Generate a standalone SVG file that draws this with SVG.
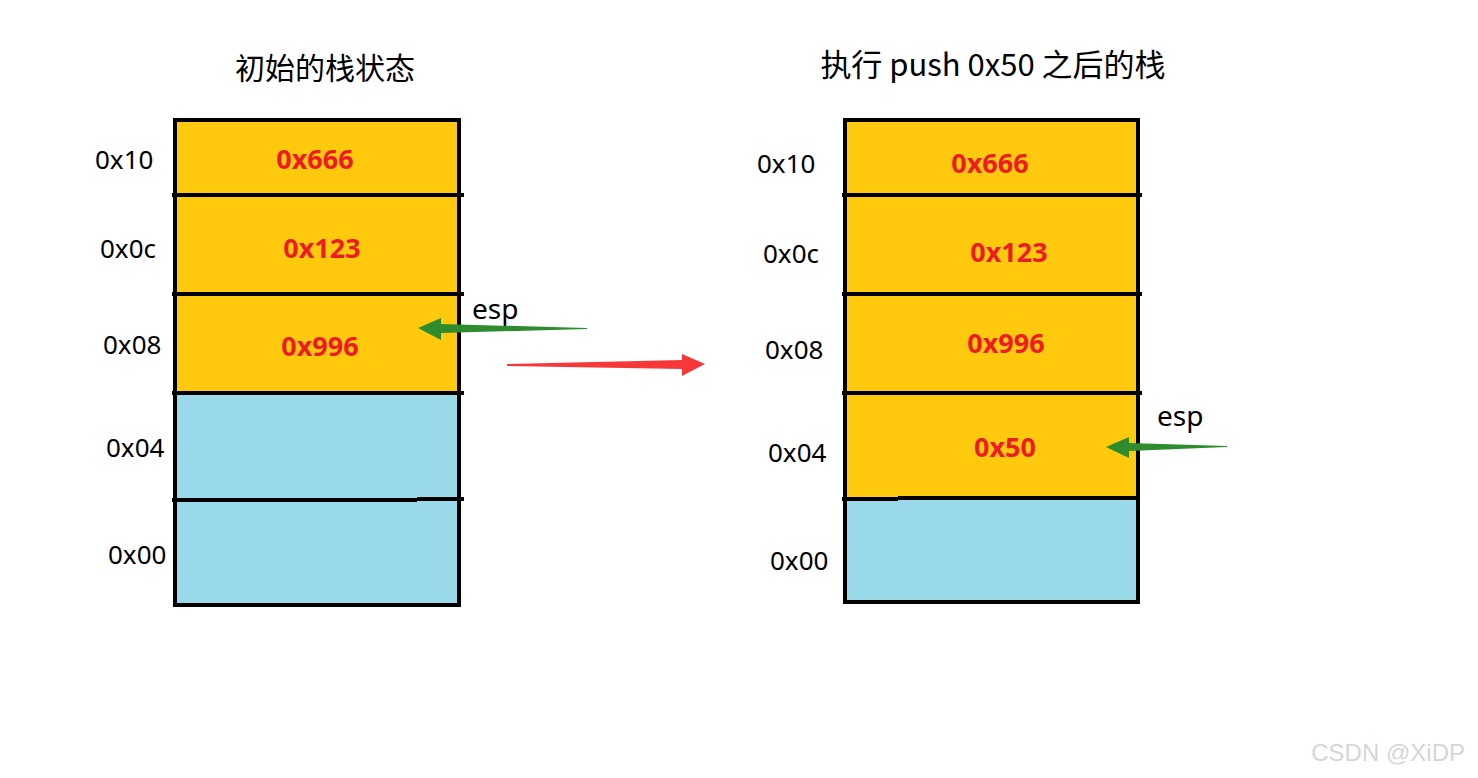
<svg xmlns="http://www.w3.org/2000/svg" width="1478" height="778" viewBox="0 0 1478 778">
<style>
.t{font-family:"Noto Sans","Open Sans","Noto Sans CJK SC",sans-serif;fill:#000;}
.addr{font-size:26px;}
.esp{font-size:28px;}
.val{font-family:"Noto Sans","Open Sans",sans-serif;font-size:27px;font-weight:bold;fill:#ED1C24;text-anchor:middle;}
.title{font-family:"Noto Sans CJK SC","Noto Sans",sans-serif;font-size:30px;fill:#000;text-anchor:middle;}
.y{fill:#FFC90E;}
.b{fill:#99D9EA;}
.ln{stroke:#000;stroke-width:4;fill:none;}
</style>
<rect width="1478" height="778" fill="#fff"/>
<text class="title" x="325" y="79">初始的栈状态</text>
<text class="title" x="993" y="76" style="font-size:31px">执行 push 0x50 之后的栈</text>

<g id="left-stack">
<rect class="y" x="175" y="120" width="284" height="273"/>
<rect class="b" x="175" y="393" width="284" height="212"/>
<rect class="ln" x="175" y="120" width="284" height="485"/>
<line class="ln" x1="172" y1="195" x2="464" y2="195"/>
<line class="ln" x1="172" y1="294" x2="464" y2="294"/>
<line class="ln" x1="172" y1="393" x2="464" y2="393"/>
<line class="ln" x1="172" y1="500" x2="417" y2="500"/>
<line class="ln" x1="417" y1="499" x2="464" y2="499"/>
<text class="val" x="315" y="169">0x666</text>
<text class="val" x="322" y="258">0x123</text>
<text class="val" x="320" y="356">0x996</text>
</g>
<g id="left-addrs">
<text class="t addr" x="95" y="169">0x10</text>
<text class="t addr" x="100" y="258">0x0c</text>
<text class="t addr" x="103" y="354">0x08</text>
<text class="t addr" x="106" y="457">0x04</text>
<text class="t addr" x="108" y="564">0x00</text>
<text class="t esp" x="472" y="319">esp</text>
</g>

<g id="right-stack">
<rect class="y" x="845" y="120" width="293" height="378"/>
<rect class="b" x="845" y="498" width="293" height="104"/>
<rect class="ln" x="845" y="120" width="293" height="482"/>
<line class="ln" x1="842" y1="195" x2="1142" y2="195"/>
<line class="ln" x1="842" y1="294" x2="1142" y2="294"/>
<line class="ln" x1="842" y1="393" x2="1142" y2="393"/>
<line class="ln" x1="842" y1="499" x2="898" y2="499"/>
<line class="ln" x1="898" y1="498" x2="1138" y2="498"/>
<text class="val" x="990" y="173">0x666</text>
<text class="val" x="1009" y="262">0x123</text>
<text class="val" x="1006" y="353">0x996</text>
<text class="val" x="1005" y="457">0x50</text>
</g>
<g id="right-addrs">
<text class="t addr" x="757" y="173">0x10</text>
<text class="t addr" x="763" y="263">0x0c</text>
<text class="t addr" x="765" y="359">0x08</text>
<text class="t addr" x="768" y="462">0x04</text>
<text class="t addr" x="770" y="570">0x00</text>
<text class="t esp" x="1157" y="426">esp</text>
</g>

<g id="connectors">
<polygon fill="#2E8B2E" points="418,328 441,318 441,324 587,328 587,329 441,333 441,340"/>
<polygon fill="#F83838" points="705,364 682,354 682,360 507,364 507,366 682,369 682,376"/>
<polygon fill="#2E8B2E" points="1106,447 1129,437 1129,443 1227,446 1227,447 1129,451 1129,458"/>
</g>

<text x="1465" y="761" text-anchor="end" font-family="Liberation Sans,Arial,sans-serif" font-size="24" fill="#d6d6d6">CSDN @XiDP</text>
</svg>
